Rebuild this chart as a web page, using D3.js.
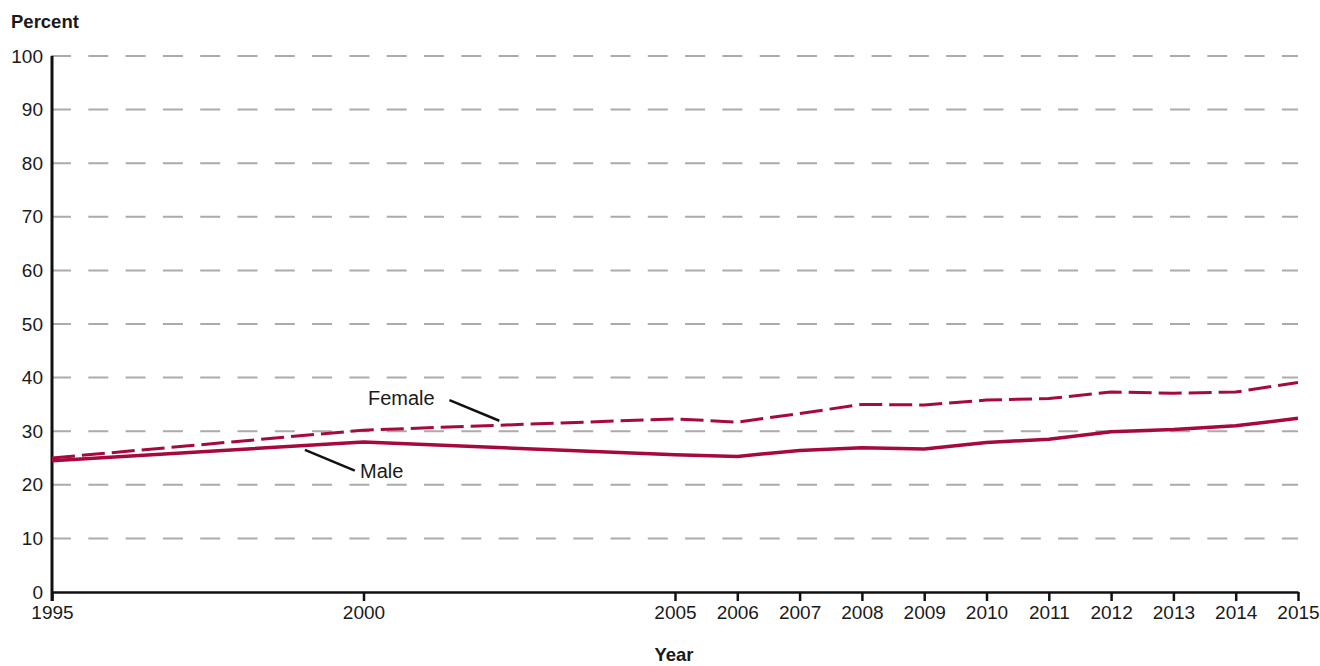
<!DOCTYPE html>
<html>
<head>
<meta charset="utf-8">
<script src="https://cdn.jsdelivr.net/npm/d3@7/dist/d3.min.js"></script>
<style>
  html, body { margin: 0; padding: 0; background: #fff; }
  svg { display: block; }
  text { font-family: "Liberation Sans", Arial, sans-serif; fill: #1a1a1a; }
</style>
</head>
<body>
<svg id="chart" width="1320" height="666"></svg>
<script>
// ---- data ----
const years = [1995, 2000, 2005, 2006, 2007, 2008, 2009, 2010, 2011, 2012, 2013, 2014, 2015];
const female = [25.0, 30.2, 32.3, 31.7, 33.3, 35.0, 34.9, 35.8, 36.1, 37.3, 37.1, 37.3, 39.1];
const male   = [24.5, 28.0, 25.6, 25.3, 26.4, 26.9, 26.7, 27.9, 28.5, 29.9, 30.3, 31.0, 32.4];
const yTicks = [0, 10, 20, 30, 40, 50, 60, 70, 80, 90, 100];
const xTicks = years;
const seriesNames = ["Female", "Male"];
const yTitle = "Percent";
const xTitle = "Year";

// ---- layout ----
const svg = d3.select("#chart");
const x = d3.scaleLinear().domain([1995, 2015]).range([52, 1298]);
const y = d3.scaleLinear().domain([0, 100]).range([592, 56]);
const color = "#a6093d";

// gridlines
svg.append("g").selectAll("line")
  .data(yTicks.filter(d => d > 0))
  .join("line")
  .attr("x1", x(1995) - 1).attr("x2", x(2015))
  .attr("y1", d => y(d)).attr("y2", d => y(d))
  .attr("stroke", "#ababab")
  .attr("stroke-width", 2)
  .attr("stroke-dasharray", "20,17.3");

// y axis labels
svg.append("g").selectAll("text")
  .data(yTicks)
  .join("text")
  .attr("x", 43)
  .attr("y", d => y(d))
  .attr("dy", "0.35em")
  .attr("text-anchor", "end")
  .attr("font-size", 19)
  .text(d => d);

// x axis
const xAxis = d3.axisBottom(x)
  .tickValues(xTicks)
  .tickFormat(d3.format("d"))
  .tickSize(9)
  .tickPadding(5)
  .tickSizeOuter(0);
const gx = svg.append("g").attr("transform", `translate(0,${y(0)})`).call(xAxis);
gx.select(".domain").attr("stroke", "#111").attr("stroke-width", 2.5);
gx.selectAll(".tick line").attr("stroke", "#111").attr("stroke-width", 2.5);
gx.selectAll(".tick text").attr("font-size", 19).attr("fill", "#1a1a1a")
  .attr("font-family", "Liberation Sans, Arial, sans-serif");

// y axis line
svg.append("line")
  .attr("x1", x(1995)).attr("x2", x(1995))
  .attr("y1", y(100)).attr("y2", y(0) + 9)
  .attr("stroke", "#111").attr("stroke-width", 3);

// lines
const line = d3.line().x(d => x(d[0])).y(d => y(d[1]));
svg.append("path")
  .datum(years.map((yr, i) => [yr, female[i]]))
  .attr("d", line)
  .attr("fill", "none")
  .attr("stroke", color)
  .attr("stroke-width", 3)
  .attr("stroke-dasharray", "23,7");
svg.append("path")
  .datum(years.map((yr, i) => [yr, male[i]]))
  .attr("d", line)
  .attr("fill", "none")
  .attr("stroke", color)
  .attr("stroke-width", 3.5)
  .attr("stroke-linejoin", "round");

// series labels with leader lines
svg.append("text").attr("x", 368).attr("y", 405).attr("font-size", 20).text(seriesNames[0]);
svg.append("line")
  .attr("x1", x(2001.38)).attr("y1", y(35.8))
  .attr("x2", x(2002.18)).attr("y2", y(31.95))
  .attr("stroke", "#111").attr("stroke-width", 2.5);

svg.append("text").attr("x", 360).attr("y", 478).attr("font-size", 20).text(seriesNames[1]);
svg.append("line")
  .attr("x1", x(1999.06)).attr("y1", y(26.5))
  .attr("x2", x(1999.86)).attr("y2", y(22.65))
  .attr("stroke", "#111").attr("stroke-width", 2.5);

// titles
svg.append("text").attr("x", 11).attr("y", 28).attr("font-size", 18.5).attr("font-weight", "bold").text(yTitle);
svg.append("text").attr("x", 674).attr("y", 661).attr("text-anchor", "middle")
  .attr("font-size", 18.5).attr("font-weight", "bold").text(xTitle);
</script>
</body>
</html>
